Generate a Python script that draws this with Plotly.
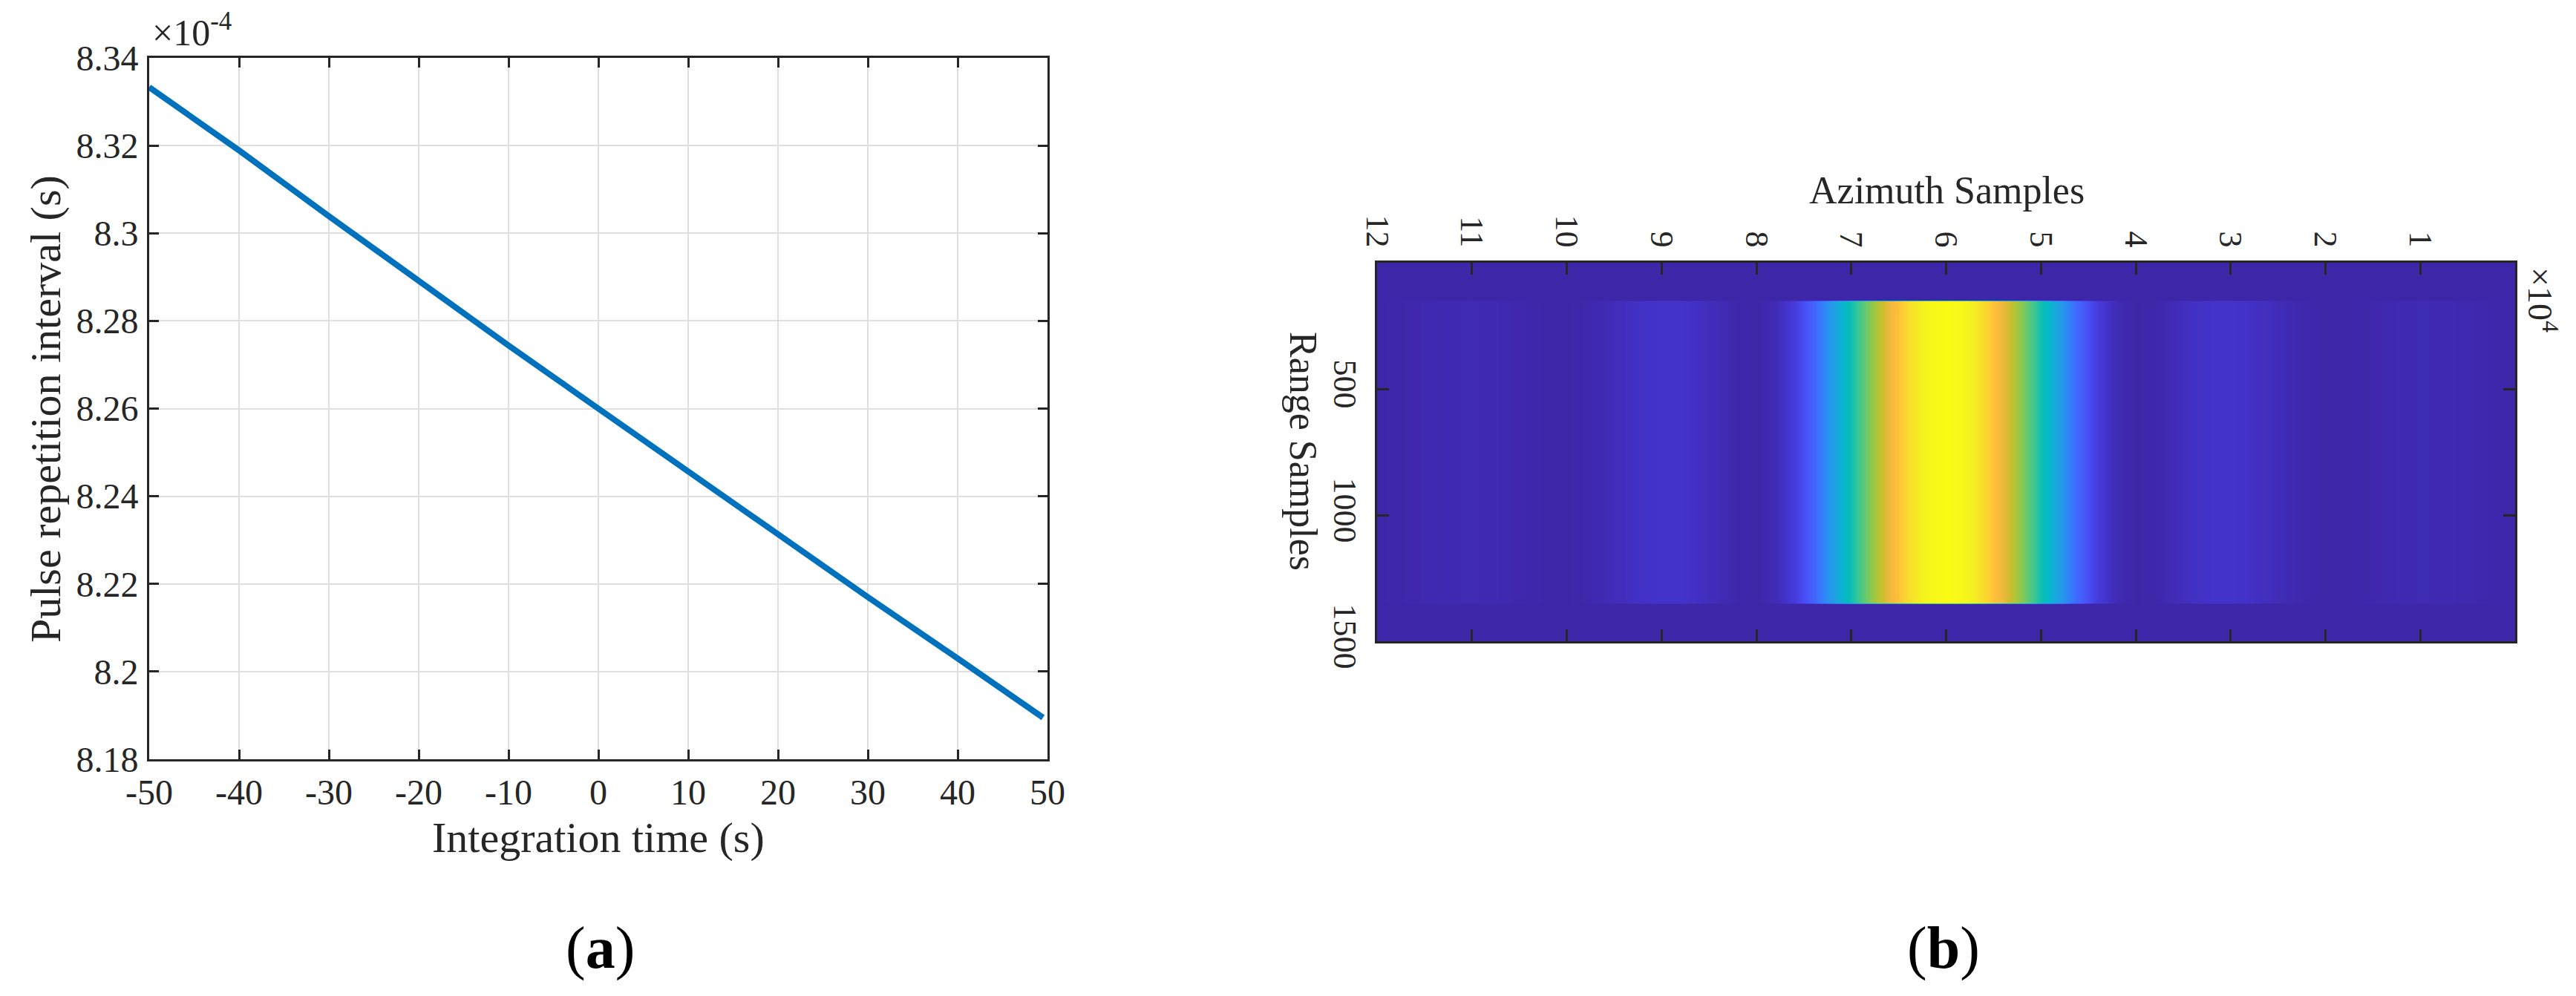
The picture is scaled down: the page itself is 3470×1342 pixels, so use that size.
import plotly.graph_objects as go

W, H = 3470, 1342
OFF = 8  # page body margin shifts the figure by this many pixels

# ---------------- data: panel (a) ----------------
time_s = [-50, -40, -30, -20, -10, 0, 10, 20, 30, 40, 49.5]
pri_e4 = [8.3333, 8.3189, 8.3039, 8.2890, 8.2744, 8.2600, 8.2456, 8.2310, 8.2170, 8.2030, 8.1895]
x_ticks_a = [-50, -40, -30, -20, -10, 0, 10, 20, 30, 40, 50]
x_ticktext_a = ["-50", "-40", "-30", "-20", "-10", "0", "10", "20", "30", "40", "50"]
y_ticks_a = [8.18, 8.20, 8.22, 8.24, 8.26, 8.28, 8.30, 8.32, 8.34]
y_ticktext_a = ["8.18", "8.2", "8.22", "8.24", "8.26", "8.28", "8.3", "8.32", "8.34"]

# ---------------- data: panel (b) ----------------
azimuth = [i * 2000 for i in range(61)]  # 0 .. 120000 samples
az_profile = [
    0.0006, 0.0034, 0.0077, 0.0122, 0.0155, 0.0165, 0.0142, 0.0094, 0.0043, 0.0006,
    0.0006, 0.0061, 0.0160, 0.0285, 0.0401, 0.0466, 0.0454, 0.0351, 0.0190, 0.0046,
    0.0006, 0.0183, 0.0674, 0.1530, 0.2750, 0.4250, 0.5890, 0.7480, 0.8810, 0.9690,
    1.0000,
    0.9690, 0.8810, 0.7480, 0.5890, 0.4250, 0.2750, 0.1530, 0.0674, 0.0183, 0.0006,
    0.0046, 0.0190, 0.0351, 0.0454, 0.0466, 0.0401, 0.0285, 0.0160, 0.0061, 0.0006,
    0.0006, 0.0043, 0.0094, 0.0142, 0.0165, 0.0155, 0.0122, 0.0077, 0.0034, 0.0006,
]
range_rows = [0, 146, 154, 1346, 1354, 1500]
range_band = [0, 0, 1, 1, 0, 0]
az_ticks = [120000, 110000, 100000, 90000, 80000, 70000, 60000, 50000, 40000, 30000, 20000, 10000]
az_ticktext = ["12", "11", "10", "9", "8", "7", "6", "5", "4", "3", "2", "1"]
rg_ticks = [500, 1000, 1500]
rg_ticktext = ["500", "1000", "1500"]

z_b = [[m * v for v in az_profile] for m in range_band]

parula = [
    [0.00, "rgb(62,38,168)"], [0.05, "rgb(68,52,206)"], [0.10, "rgb(71,73,240)"],
    [0.15, "rgb(69,98,253)"], [0.20, "rgb(53,122,253)"], [0.25, "rgb(40,147,238)"],
    [0.30, "rgb(29,164,224)"], [0.35, "rgb(9,180,207)"], [0.40, "rgb(4,188,188)"],
    [0.45, "rgb(35,195,164)"], [0.50, "rgb(68,200,138)"], [0.55, "rgb(104,201,109)"],
    [0.60, "rgb(142,200,79)"], [0.65, "rgb(177,196,54)"], [0.70, "rgb(210,188,48)"],
    [0.75, "rgb(239,185,62)"], [0.80, "rgb(254,190,60)"], [0.85, "rgb(253,207,50)"],
    [0.90, "rgb(246,226,40)"], [0.95, "rgb(244,243,29)"], [1.00, "rgb(249,251,21)"],
]

FONT = "Liberation Serif"
AX = "#262626"

def px_x(x):
    return (x - OFF) / W

def px_y(y):
    return 1 - (y - OFF) / H

fig = go.Figure()

fig.add_trace(go.Scatter(
    x=time_s, y=pri_e4, mode="lines",
    line=dict(color="#0072BD", width=8),
    xaxis="x", yaxis="y", showlegend=False, hoverinfo="skip",
))

fig.add_trace(go.Heatmap(
    x=azimuth, y=range_rows, z=z_b, zmin=0, zmax=1,
    colorscale=parula, showscale=False, zsmooth="best",
    xaxis="x2", yaxis="y2", hoverinfo="skip",
))

common = dict(showline=True, linecolor=AX, linewidth=3, ticks="inside", mirror="ticks",
              tickcolor=AX, zeroline=False, automargin=False)

fig.update_layout(
    template="none",
    width=W, height=H, autosize=False,
    margin=dict(l=0, r=0, t=0, b=0, pad=0, autoexpand=False),
    paper_bgcolor="white", plot_bgcolor="white",
    font=dict(family=FONT, color=AX),
    xaxis=dict(domain=[px_x(201), px_x(1411)], anchor="y", range=[-50, 50],
               tickvals=x_ticks_a, ticktext=x_ticktext_a, ticklen=13, tickwidth=2.5,
               showgrid=True, gridcolor="#dfdfdf", gridwidth=2,
               tickfont=dict(family=FONT, size=48, color=AX), ticklabelstandoff=0, **common),
    yaxis=dict(domain=[px_y(1023), px_y(78)], anchor="x", range=[8.18, 8.34],
               tickvals=y_ticks_a, ticktext=y_ticktext_a, ticklen=13, tickwidth=2.5,
               showgrid=True, gridcolor="#dfdfdf", gridwidth=2,
               tickfont=dict(family=FONT, size=48, color=AX), ticklabelstandoff=2, **common),
    xaxis2=dict(domain=[px_x(1855), px_x(3388)], anchor="y2", side="top",
                range=[120000, 0], tickvals=az_ticks, ticktext=az_ticktext, tickangle=90,
                ticklen=16, tickwidth=3, showgrid=False,
                tickfont=dict(family=FONT, size=44, color=AX), ticklabelstandoff=2, **common),
    yaxis2=dict(domain=[px_y(864), px_y(354)], anchor="x2",
                range=[1500, 0], tickvals=rg_ticks, ticktext=rg_ticktext, tickangle=90,
                ticklen=16, tickwidth=3, showgrid=False,
                tickfont=dict(family=FONT, size=44, color=AX), ticklabelstandoff=2, **common),
)

ann = []
ann.append(dict(text="Integration time (s)", x=px_x(806), y=px_y(1128), xref="paper", yref="paper",
                showarrow=False, xanchor="center", yanchor="middle",
                font=dict(family=FONT, size=58, color=AX)))
ann.append(dict(text="Pulse repetition interval (s)", x=px_x(61), y=px_y(551), xref="paper", yref="paper",
                showarrow=False, xanchor="center", yanchor="middle", textangle=-90,
                font=dict(family=FONT, size=58, color=AX)))
ann.append(dict(text="×10<sup>-4</sup>", x=px_x(203), y=px_y(74), xref="paper", yref="paper",
                showarrow=False, xanchor="left", yanchor="bottom",
                font=dict(family=FONT, size=50, color=AX)))
ann.append(dict(text="Azimuth Samples", x=px_x(2622), y=px_y(256), xref="paper", yref="paper",
                showarrow=False, xanchor="center", yanchor="middle",
                font=dict(family=FONT, size=52, color=AX)))
ann.append(dict(text="Range Samples", x=px_x(1756), y=px_y(608), xref="paper", yref="paper",
                showarrow=False, xanchor="center", yanchor="middle", textangle=90,
                font=dict(family=FONT, size=52, color=AX)))
ann.append(dict(text="×10<sup>4</sup>", x=px_x(3394), y=px_y(358), xref="paper", yref="paper",
                showarrow=False, xanchor="left", yanchor="top", textangle=90,
                font=dict(family=FONT, size=46, color=AX)))
ann.append(dict(text="(<b>a</b>)", x=px_x(808), y=px_y(1277), xref="paper", yref="paper",
                showarrow=False, xanchor="center", yanchor="middle",
                font=dict(family=FONT, size=80, color="#000000")))
ann.append(dict(text="(<b>b</b>)", x=px_x(2618), y=px_y(1277), xref="paper", yref="paper",
                showarrow=False, xanchor="center", yanchor="middle",
                font=dict(family=FONT, size=80, color="#000000")))
fig.update_layout(annotations=ann)

fig.write_html("out.html")
